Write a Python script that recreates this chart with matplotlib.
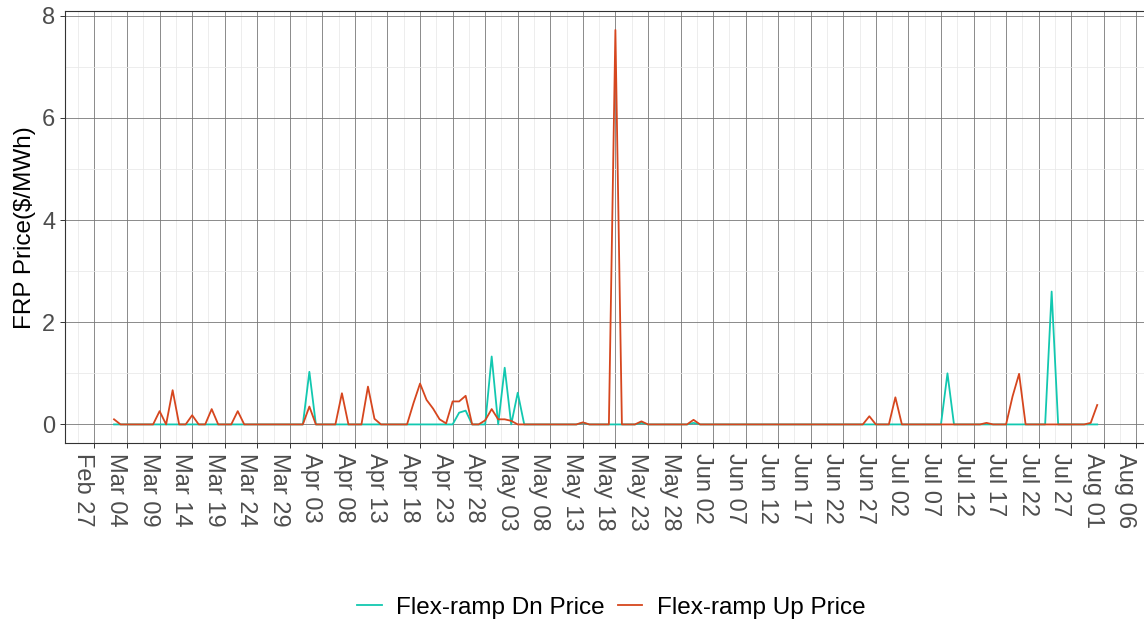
import numpy as np
import pandas as pd
import matplotlib
matplotlib.use("Agg")
import matplotlib.pyplot as plt
import matplotlib.dates as mdates
from matplotlib.ticker import FixedLocator

plt.rcParams['font.family'] = ['Liberation Sans', 'DejaVu Sans']

# daily prices, Mar 02 .. Jul 31
up_mar = [0.10, 0, 0, 0, 0, 0, 0, 0.26, 0, 0.67, 0, 0, 0.18, 0, 0, 0.30, 0, 0, 0, 0.26,
          0, 0, 0, 0, 0, 0, 0, 0, 0, 0]
up_apr = [0.35, 0, 0, 0, 0, 0.61, 0, 0, 0, 0.74, 0.11, 0, 0, 0, 0, 0, 0.42, 0.80, 0.48, 0.31,
          0.10, 0.02, 0.45, 0.45, 0.56, 0, 0, 0.08, 0.30, 0.10]
up_may = [0.10, 0.07, 0, 0, 0, 0, 0, 0, 0, 0, 0, 0, 0.04, 0, 0, 0, 0, 7.72, 0, 0,
          0, 0.06, 0, 0, 0, 0, 0, 0, 0, 0.09, 0]
up_jun = [0, 0, 0, 0, 0, 0, 0, 0, 0, 0, 0, 0, 0, 0, 0, 0, 0, 0, 0, 0,
          0, 0, 0, 0, 0, 0.16, 0, 0, 0, 0.53]
up_jul = [0, 0, 0, 0, 0, 0, 0, 0, 0, 0, 0, 0, 0, 0.03, 0, 0, 0, 0.55, 0.99, 0,
          0, 0, 0, 0, 0, 0, 0, 0, 0, 0.03, 0.38]

dn_mar = [0, 0, 0, 0, 0, 0, 0, 0, 0, 0, 0, 0, 0, 0, 0, 0, 0, 0, 0, 0,
          0, 0, 0, 0, 0, 0, 0, 0, 0, 0]
dn_apr = [1.03, 0, 0, 0, 0, 0, 0, 0, 0, 0, 0, 0, 0, 0, 0, 0, 0, 0, 0, 0,
          0, 0, 0, 0.23, 0.27, 0, 0, 0, 1.33, 0]
dn_may = [1.11, 0, 0.62, 0, 0, 0, 0, 0, 0, 0, 0, 0, 0.03, 0, 0, 0, 0, 0, 0, 0,
          0, 0.03, 0, 0, 0, 0, 0, 0, 0, 0.03, 0]
dn_jun = [0, 0, 0, 0, 0, 0, 0, 0, 0, 0, 0, 0, 0, 0, 0, 0, 0, 0, 0, 0,
          0, 0, 0, 0, 0, 0, 0, 0, 0, 0]
dn_jul = [0, 0, 0, 0, 0, 0, 0, 1.00, 0, 0, 0, 0, 0, 0, 0, 0, 0, 0, 0, 0,
          0, 0, 0, 2.60, 0, 0, 0, 0, 0, 0, 0]

dates = pd.date_range('2019-03-02', '2019-07-31', freq='D')
up_price = up_mar + up_apr + up_may + up_jun + up_jul
dn_price = dn_mar + dn_apr + dn_may + dn_jun + dn_jul

tick_dates = pd.date_range('2019-02-27', '2019-08-06', freq='5D')
y_ticks = [0, 2, 4, 6, 8]

col_dn = '#12C8B0'
col_up = '#D6461E'

fig = plt.figure(figsize=(11.44, 6.26), dpi=100)
ax = fig.add_axes([0.0571, 0.2923, 0.9447, 0.690])

x = mdates.date2num(dates)
ax.plot(x, dn_price, color=col_dn, lw=1.3, label='Flex-ramp Dn Price', zorder=3)
ax.plot(x, up_price, color=col_up, lw=1.3, label='Flex-ramp Up Price', zorder=4)

t0 = mdates.date2num(pd.Timestamp('2019-02-27'))
ax.set_xlim(t0 - 4.48, t0 + 161.5)
ax.set_ylim(-0.364, 8.09)

tk = mdates.date2num(tick_dates)
ax.xaxis.set_major_locator(FixedLocator(tk))
ax.set_xticklabels([d.strftime('%b %d') for d in tick_dates], rotation=270,
                   ha='right', va='top', rotation_mode='default')
ax.xaxis.set_minor_locator(FixedLocator(list(tk + 2.5) + [tk[0] - 2.5]))
ax.set_yticks(y_ticks)
ax.yaxis.set_minor_locator(FixedLocator([1, 3, 5, 7]))

ax.grid(which='major', color='#777777', lw=0.6)
ax.grid(which='minor', color='#e8e8e8', lw=0.55)
ax.set_axisbelow(True)

ax.tick_params(which='major', length=3.6, width=0.7, color='#333333',
               labelsize=17, labelcolor='#4d4d4d', pad=3.6)
ax.tick_params(which='minor', length=0)
for s in ax.spines.values():
    s.set_color('#333333')
    s.set_linewidth(0.8)

fig.text(0.022, 0.637, 'FRP Price($/MWh)', rotation=90, ha='center', va='center',
         fontsize=17.5, color='black')

fig.legend(loc='center', bbox_to_anchor=(0.5345, 0.029), ncol=2, frameon=False,
           fontsize=17.5, handlelength=1.0, handletextpad=0.6, columnspacing=0.55)

fig.savefig('out.png', dpi=100)
